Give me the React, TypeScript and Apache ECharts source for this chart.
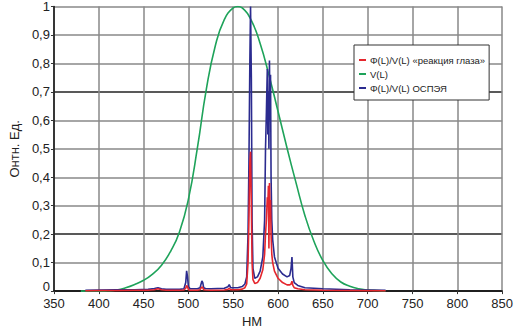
import React, { useEffect, useRef } from "react";
import * as echarts from "echarts";

const xTicks = [350, 400, 450, 500, 550, 600, 650, 700, 750, 800, 850];

const vNm = [380, 390, 400, 410, 420, 430, 440, 450, 460, 470, 480, 490, 500, 510, 520, 530, 540, 550, 555, 560, 570, 580, 590, 600, 610, 620, 630, 640, 650, 660, 670, 680, 690, 700, 710, 720];
const vVal = [0.00004, 0.00012, 0.0004, 0.0012, 0.004, 0.0116, 0.023, 0.038, 0.06, 0.091, 0.139, 0.208, 0.323, 0.503, 0.71, 0.862, 0.954, 0.995, 1.0, 0.995, 0.952, 0.87, 0.757, 0.631, 0.503, 0.381, 0.265, 0.175, 0.107, 0.061, 0.032, 0.017, 0.0082, 0.0041, 0.0021, 0.00105];

const specNm = [385, 400, 420, 440, 455, 462, 466, 470, 475, 490, 495, 497, 498, 499, 500, 502, 510, 513, 515, 516, 517, 519, 525, 540, 544, 545.5, 547, 555, 560, 563, 565, 566.5, 567.5, 568.5, 569.3, 570.2, 571, 572, 574, 577, 580, 583, 585, 586, 587, 588, 588.6, 589.2, 589.8, 590.4, 591, 591.6, 592.2, 593, 594, 596, 600, 605, 610, 613, 614.5, 615.5, 616.5, 618, 622, 630, 650, 680, 720];

const blueVal = [0.003, 0.004, 0.005, 0.005, 0.006, 0.009, 0.012, 0.008, 0.006, 0.006, 0.008, 0.03, 0.071, 0.05, 0.015, 0.008, 0.008, 0.012, 0.036, 0.03, 0.012, 0.009, 0.008, 0.01, 0.015, 0.023, 0.012, 0.012, 0.016, 0.025, 0.05, 0.2, 0.45, 0.8, 1.0, 0.75, 0.25, 0.08, 0.045, 0.05, 0.07, 0.12, 0.25, 0.5, 0.63, 0.78, 0.55, 0.7, 0.5, 0.81, 0.6, 0.76, 0.4, 0.25, 0.18, 0.12, 0.08, 0.06, 0.05, 0.055, 0.08, 0.12, 0.05, 0.03, 0.02, 0.012, 0.008, 0.005, 0.003];

const redVal = [0.001, 0.002, 0.002, 0.003, 0.003, 0.005, 0.008, 0.005, 0.003, 0.003, 0.004, 0.01, 0.02, 0.015, 0.005, 0.003, 0.003, 0.005, 0.015, 0.012, 0.005, 0.004, 0.003, 0.004, 0.006, 0.01, 0.005, 0.005, 0.007, 0.012, 0.025, 0.1, 0.25, 0.45, 0.49, 0.3, 0.1, 0.04, 0.027, 0.03, 0.045, 0.075, 0.13, 0.2, 0.25, 0.33, 0.3, 0.37, 0.15, 0.38, 0.3, 0.32, 0.2, 0.13, 0.1, 0.07, 0.045, 0.03, 0.022, 0.022, 0.025, 0.035, 0.02, 0.012, 0.008, 0.005, 0.003, 0.002, 0.001];

const seriesNames = ["Φ(L)/V(L) «реакция глаза»", "V(L)", "Φ(L)/V(L) ОСПЭЯ"];

const FONT = "Liberation Sans, Arial, sans-serif";

export default function App() {
  const ref = useRef<HTMLDivElement>(null);
  useEffect(() => {
    document.body.style.margin = "0";
    const chart = echarts.init(ref.current!, null, { renderer: "svg" });
    const pairs = (xs: number[], ys: number[]) => xs.map((x, i) => [x, ys[i]]);
    chart.setOption({
      animation: false,
      backgroundColor: "#fff",
      textStyle: { fontFamily: FONT },
      grid: { left: 42, right: 11, top: 4, bottom: 30 },
      legend: {
        data: seriesNames,
        orient: "vertical",
        left: 354,
        top: 45,
        itemWidth: 7,
        itemHeight: 2,
        itemGap: 4,
        padding: [10, 4, 7, 5],
        backgroundColor: "#fff",
        borderColor: "#333",
        borderWidth: 1,
        borderRadius: 0,
        icon: "rect",
        textStyle: { fontSize: 9.5, color: "#222", fontFamily: FONT, padding: [0, 0, 0, -1] },
      },
      xAxis: {
        type: "value",
        min: 350,
        max: 850,
        interval: 50,
        name: "НМ",
        nameLocation: "middle",
        nameGap: 16,
        nameTextStyle: { fontSize: 13, color: "#222", padding: [0, 52, 0, 0] },
        axisLine: { show: true, lineStyle: { color: "#111", width: 1.5 } },
        axisTick: { show: true, length: 3, lineStyle: { color: "#333" } },
        axisLabel: { fontSize: 13, color: "#222", margin: 6 },
        splitLine: { show: true, lineStyle: { color: "#888", width: 1.5 } },
      },
      yAxis: {
        type: "value",
        min: 0,
        max: 1,
        interval: 0.1,
        name: "Онтн. Ед.",
        nameLocation: "middle",
        nameGap: 30,
        nameTextStyle: { fontSize: 13, color: "#222" },
        axisLine: { show: true, lineStyle: { color: "#111", width: 1.5 } },
        axisTick: { show: true, length: 3, lineStyle: { color: "#333" } },
        axisLabel: {
          fontSize: 13,
          color: "#222",
          margin: 4,
          formatter: (v: number) => {
            const s = (Math.round(v * 10) / 10).toString().replace(".", ",");
            return v === 0 ? "{z|" + s + "}" : s;
          },
          rich: { z: { fontSize: 13, color: "#222", padding: [0, 0, 9, 0] } },
        },
        splitLine: {
          show: true,
          lineStyle: {
            color: ["#111", "#888", "#222", "#888", "#888", "#888", "#888", "#222", "#888", "#888", "#888"],
            width: 1.5,
          },
        },
      },
      series: [
        {
          name: seriesNames[2],
          type: "line",
          data: pairs(specNm, blueVal),
          showSymbol: false,
          lineStyle: { color: "#2b2b8f", width: 1.6 },
          itemStyle: { color: "#2b2b8f" },
          z: 3,
        },
        {
          name: seriesNames[1],
          type: "line",
          data: pairs(vNm, vVal),
          smooth: true,
          showSymbol: false,
          lineStyle: { color: "#1ea35a", width: 1.6 },
          itemStyle: { color: "#1ea35a" },
          z: 2,
        },
        {
          name: seriesNames[0],
          type: "line",
          data: pairs(specNm, redVal),
          showSymbol: false,
          lineStyle: { color: "#e5262d", width: 1.6 },
          itemStyle: { color: "#e5262d" },
          z: 4,
        },
      ],
    });
    return () => chart.dispose();
  }, []);
  return <div ref={ref} style={{ width: 516, height: 333 }} />;
}
